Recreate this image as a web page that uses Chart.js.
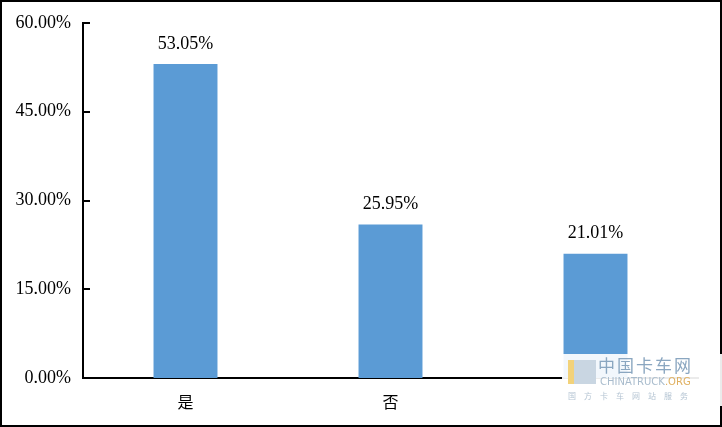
<!DOCTYPE html>
<html>
<head>
<meta charset="utf-8">
<script src="https://cdn.jsdelivr.net/npm/chart.js@4.4.1/dist/chart.umd.min.js"></script>
<style>
    html, body { margin: 0; padding: 0; background: #fff; }
    #wrap { position: relative; width: 722px; height: 427px; }
    #frame {
        position: absolute; left: 0; top: 0; width: 722px; height: 427px;
        box-sizing: border-box; border: 2px solid #000; pointer-events: none;
    }
    #mark {
        position: absolute; left: 562px; top: 354px; width: 160px; height: 52px;
        background: rgba(255,255,255,0.92); font-family: 'Noto Sans CJK SC', sans-serif;
        color: #9bb3c9; line-height: 1.1;
    }
</style>
</head>
<body>
<div id="wrap">
    <canvas id="chart" width="722" height="427"></canvas>
    <div id="frame"></div>
    <div id="mark">
        <div style="position:absolute;left:6px;top:6px;width:22px;height:24px;background:#c9d6e2;border-left:6px solid #f2d27a"></div>
        <div style="position:absolute;left:36px;top:2px;font-size:17px;letter-spacing:2px;color:#8aa6c0">中国卡车网</div>
        <div style="position:absolute;left:38px;top:22px;font-size:10px;font-family:'DejaVu Sans';color:#a9bccd">CHINATRUCK<span style="color:#e0b060">.ORG</span></div>
        <div style="position:absolute;left:6px;top:38px;font-size:8px;letter-spacing:8px;color:#b5c5d3">国方卡车网站服务</div>
    </div>
</div>
<script>
// --- Data ---
const categories = ['是', '否', ''];
const shares = [53.05, 25.95, 21.01];
const yTicks = [0, 15, 30, 45, 60];

const FONT_SERIF = "'Liberation Serif', 'Times New Roman', serif";

// Value labels above each bar
const valueLabels = {
    id: 'valueLabels',
    afterDatasetsDraw(chart) {
        const ctx = chart.ctx;
        const meta = chart.getDatasetMeta(0);
        ctx.save();
        ctx.font = '18px ' + FONT_SERIF;
        ctx.fillStyle = '#000';
        ctx.textAlign = 'center';
        ctx.textBaseline = 'middle';
        meta.data.forEach((bar, i) => {
            ctx.fillText(shares[i].toFixed(2) + '%', bar.x, bar.y - 20);
        });
        ctx.restore();
    }
};

// Inward tick marks on the y axis
const innerTicks = {
    id: 'innerTicks',
    afterDraw(chart) {
        const ctx = chart.ctx;
        const y = chart.scales.y;
        const x0 = chart.chartArea.left;
        ctx.save();
        ctx.strokeStyle = '#000';
        ctx.lineWidth = 2;
        yTicks.forEach(v => {
            const py = Math.round(y.getPixelForValue(v));
            ctx.beginPath();
            ctx.moveTo(x0, py);
            ctx.lineTo(x0 + 7, py);
            ctx.stroke();
        });
        ctx.restore();
    }
};

new Chart(document.getElementById('chart').getContext('2d'), {
    type: 'bar',
    data: {
        labels: categories,
        datasets: [{
            data: shares,
            backgroundColor: '#5B9BD5',
            borderWidth: 0,
            categoryPercentage: 1,
            barPercentage: 0.312
        }]
    },
    options: {
        responsive: false,
        animation: false,
        layout: { padding: { left: 0, top: 23, right: 24, bottom: 0 } },
        plugins: { legend: { display: false }, tooltip: { enabled: false } },
        scales: {
            x: {
                grid: { display: false, drawTicks: false },
                border: { color: '#000', width: 2 },
                ticks: {
                    color: '#000',
                    padding: 14,
                    font: { family: "'Noto Sans CJK SC', sans-serif", size: 16 }
                },
                afterFit(scale) { scale.height = 49; }
            },
            y: {
                min: 0,
                max: 60,
                afterBuildTicks(scale) { scale.ticks = yTicks.map(v => ({ value: v })); },
                grid: { display: false, drawTicks: false },
                border: { color: '#000', width: 2 },
                ticks: {
                    color: '#000',
                    padding: 12,
                    font: { family: FONT_SERIF, size: 18 },
                    callback: v => Number(v).toFixed(2) + '%'
                },
                afterFit(scale) { scale.width = 83; }
            }
        }
    },
    plugins: [valueLabels, innerTicks]
});
</script>
</body>
</html>
